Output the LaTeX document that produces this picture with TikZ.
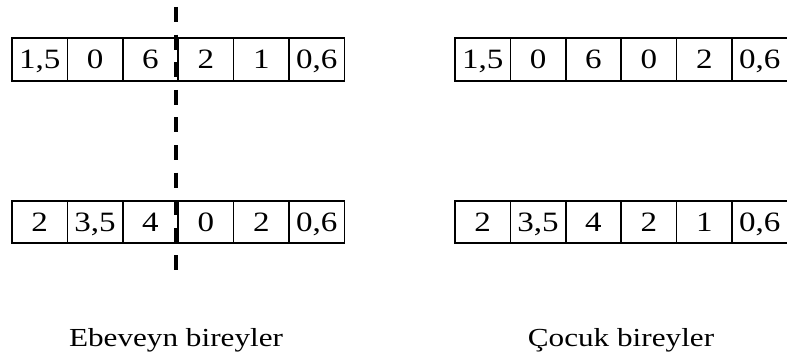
\documentclass[tikz,border=0pt]{standalone}
\usepackage{fontspec}
\setmainfont{Liberation Serif}
\newfontfamily\cellfont[FakeStretch=1.18]{Liberation Serif}
\newfontfamily\lblfont[FakeStretch=1.2]{Liberation Serif}
\usepackage{tikz}
\usetikzlibrary{positioning}

\begin{document}
\begin{tikzpicture}[
    x=1pt, y=-1pt,
    node distance=0pt,
    cell/.style={rectangle, draw, line width=1.6pt, outer sep=0pt, inner sep=0pt, minimum width=55.4pt, minimum height=42.5pt, text height=19pt, text depth=0pt, font=\cellfont\fontsize{28}{32}\selectfont},
    cut/.style={line width=3.5pt, dash pattern=on 15pt off 12.6pt},
    lbl/.style={anchor=base, font=\lblfont\fontsize{26}{30}\selectfont},
]
\useasboundingbox (0,0) rectangle (787,361);

% ebeveyn bireyler
\node[cell] (pa1) at (39.7, 59.5) {1,5};
\node[cell, right=of pa1] (pa2) {0};
\node[cell, right=of pa2] (pa3) {6};
\node[cell, right=of pa3] (pa4) {2};
\node[cell, right=of pa4] (pa5) {1};
\node[cell, right=of pa5] (pa6) {0,6};

\node[cell] (pb1) at (39.7, 222) {2};
\node[cell, right=of pb1] (pb2) {3,5};
\node[cell, right=of pb2] (pb3) {4};
\node[cell, right=of pb3] (pb4) {0};
\node[cell, right=of pb4] (pb5) {2};
\node[cell, right=of pb5] (pb6) {0,6};

% cocuk bireyler
\node[cell] (ca1) at (482.7, 59.5) {1,5};
\node[cell, right=of ca1] (ca2) {0};
\node[cell, right=of ca2] (ca3) {6};
\node[cell, right=of ca3] (ca4) {0};
\node[cell, right=of ca4] (ca5) {2};
\node[cell, right=of ca5] (ca6) {0,6};

\node[cell] (cb1) at (482.7, 222) {2};
\node[cell, right=of cb1] (cb2) {3,5};
\node[cell, right=of cb2] (cb3) {4};
\node[cell, right=of cb3] (cb4) {2};
\node[cell, right=of cb4] (cb5) {1};
\node[cell, right=of cb5] (cb6) {0,6};

% kesme noktasi
\coordinate (cuttop) at (176, 7);
\coordinate (cutbot) at (176, 274);
\draw[cut] (cuttop) -- (cutbot);

\node[lbl] (ebv) at (176, 346) {Ebeveyn bireyler};
\node[lbl] (cck) at (621, 346) {Çocuk bireyler};

\end{tikzpicture}
\end{document}
